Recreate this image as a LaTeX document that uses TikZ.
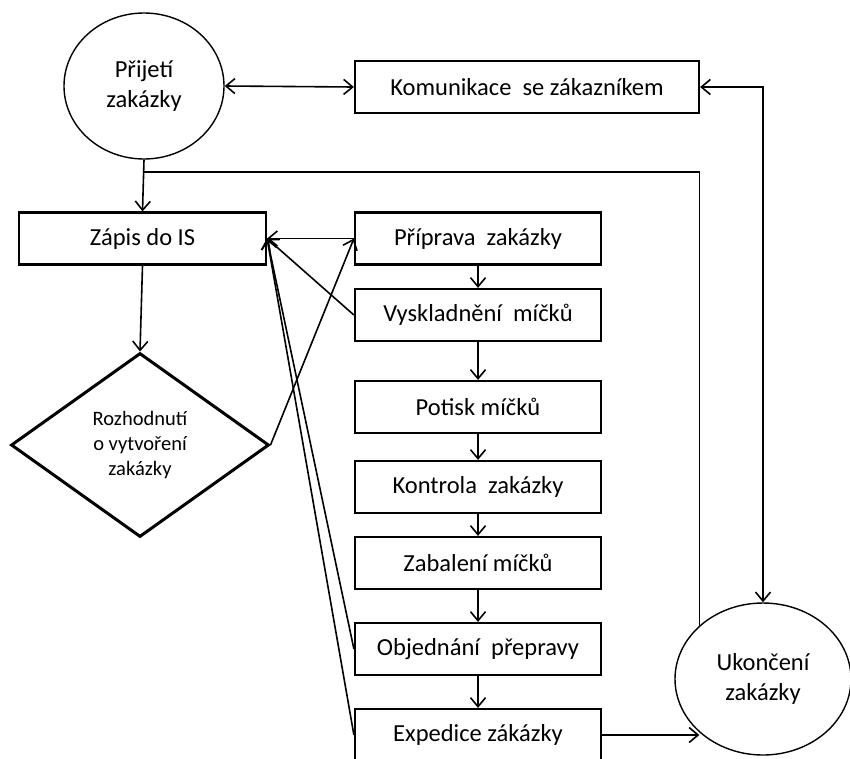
\documentclass[tikz,border=0pt]{standalone}
\usepackage{fontspec}
\setmainfont{Carlito}
\usetikzlibrary{arrows.meta,shapes.geometric}
\begin{document}
\begin{tikzpicture}[x=1pt,y=-1pt,
  box/.style={draw,line width=2.2pt,minimum width=246pt,minimum height=52pt,inner sep=0pt,font=\fontsize{24.5}{29}\selectfont},
  ell/.style={draw,ellipse,line width=1.4pt,inner sep=0pt,align=center,font=\fontsize{24.5}{30}\selectfont},
  dia/.style={draw,diamond,line width=3pt,inner sep=0pt,align=center,font=\fontsize{20.5}{25}\selectfont},
  con/.style={line width=1.6pt},
  tip/.tip={Straight Barb[length=9pt,width=15pt,line width=1.6pt]},
  arr/.style={con,-tip},
  darr/.style={con,tip-tip}]
\clip (0,0) rectangle (850,758);
\fill[white] (0,0) rectangle (850,758);

\node[ell,minimum width=160pt,minimum height=146pt] (prijeti) at (144,86) {Přijetí\\zakázky};
\node[box,minimum width=344pt] (kom) at (527,87) {Komunikace\ \ se zákazníkem};
\node[box,minimum width=247pt] (zapis) at (142.5,238.5) {Zápis do IS};
\node[dia,minimum width=258pt,minimum height=184pt] (roz) at (140,445) {Rozhodnutí\\o vytvoření\\zakázky};

\node[box] (prip) at (478,238.5) {Příprava\ \ zakázky};
\node[box] (vysk) at (478,315) {Vyskladnění\ \ míčků};
\node[box] (pot) at (478,407) {Potisk míčků};
\node[box] (kon) at (478,487) {Kontrola\ \ zakázky};
\node[box] (zab) at (478,563) {Zabalení míčků};
\node[box] (obj) at (478,649) {Objednání\ \ přepravy};
\node[box] (exp) at (478,735) {Expedice zákázky};

\node[ell,minimum width=176pt,minimum height=152pt] (ukon) at (763,679) {Ukončení\\zakázky};

\coordinate (j) at (143,172);

\draw[darr] (prijeti.east) -- (kom.west);
\draw[darr] (kom.east) -| (ukon.north);
\draw[arr] (prijeti.south) -- (zapis.north);
\draw[con] (ukon.140) |- (j);
\draw[arr] (zapis.south) -- (roz.north);
\draw[arr] (roz.east) -- (prip.west);
\draw[arr] (prip.west) -- (zapis.east);
\draw[arr] (vysk.west) -- (zapis.east);
\draw[arr] (obj.west) -- (zapis.east);
\draw[arr] (exp.west) -- (zapis.east);

\draw[arr] (prip.south) -- (vysk.north);
\draw[arr] (vysk.south) -- (pot.north);
\draw[arr] (pot.south) -- (kon.north);
\draw[arr] (kon.south) -- (zab.north);
\draw[arr] (zab.south) -- (obj.north);
\draw[arr] (obj.south) -- (exp.north);
\draw[arr] (exp.east) -- (exp.east -| ukon.220);
\end{tikzpicture}
\end{document}
